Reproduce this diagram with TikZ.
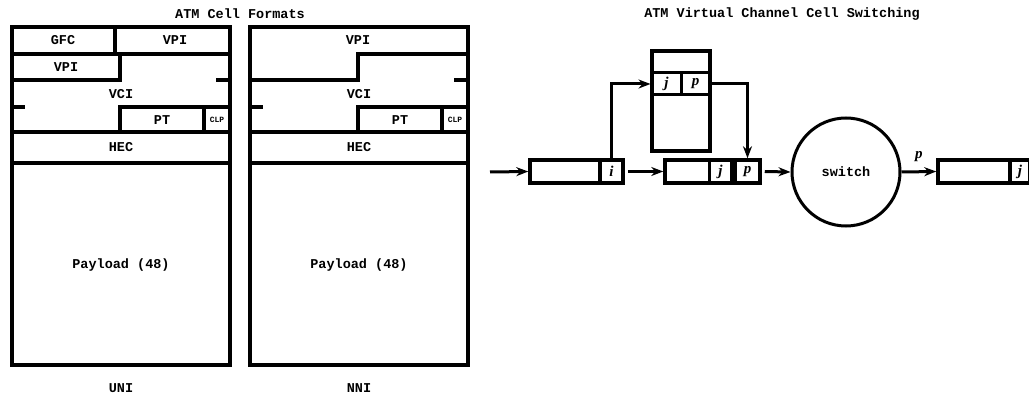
\documentclass[tikz,border=0pt]{standalone}
\usepackage{fontspec}
\setmonofont{Liberation Mono}
\newfontfamily\varfont{Liberation Serif}
\usetikzlibrary{arrows.meta, positioning}

\tikzset{
  cellline/.style={line width=3.5pt, line cap=rect},
  lbl/.style={font=\fontsize{13.5}{15}\selectfont\ttfamily\bfseries, inner sep=0pt},
  tinylbl/.style={font=\fontsize{8}{9}\selectfont\ttfamily\bfseries, inner sep=0pt},
  var/.style={font=\fontsize{15}{16}\selectfont\varfont\bfseries\itshape},
  cellbox/.style={draw, line width=3.5pt, minimum height=23pt, inner sep=0pt},
  fieldbox/.style={cellbox, minimum width=#1},
  flow/.style={->, line width=3pt},
}

\begin{document}
\begin{tikzpicture}[x=1pt, y=-1pt, >={Stealth[length=12pt, width=9pt]}]
  \useasboundingbox (0,0) rectangle (1029,398);

  \node[lbl] (title-fmt) at (240,14) {ATM Cell Formats};
  \node[lbl] (title-sw) at (782,14) {ATM Virtual Channel Cell Switching};

  % both header layouts share the lower part, NNI is shifted right
  \foreach \ox/\name in {0/UNI, 238/NNI}{
    \begin{scope}[xshift=\ox]
      \draw[cellline] (12,27) rectangle (230,365);
      \draw[cellline] (12,80) -- (120,80) -- (120,54) -- (230,54);
      \draw[cellline] (218,80) -- (230,80);
      \draw[cellline] (12,107) -- (23,107);
      \draw[cellline] (120,132) -- (120,107) -- (230,107);
      \draw[cellline] (204,107) -- (204,132);
      \draw[cellline] (12,132) -- (230,132);
      \draw[cellline] (12,163) -- (230,163);
      \node[lbl] (\name-vci) at (121,94) {VCI};
      \node[lbl] (\name-pt) at (162,120) {PT};
      \node[tinylbl] (\name-clp) at (217,120) {CLP};
      \node[lbl] (\name-hec) at (121,147) {HEC};
      \node[lbl] (\name-load) at (121,265) {Payload (48)};
      \node[lbl] (\name-name) at (121,388) {\name};
    \end{scope}
  }
  % UNI first byte: GFC + VPI
  \draw[cellline] (115,27) -- (115,54);
  \draw[cellline] (12,54) -- (120,54);
  \node[lbl] (UNI-gfc) at (63,40) {GFC};
  \node[lbl] (UNI-vpi) at (175,40) {VPI};
  \node[lbl] (UNI-vpi2) at (66,67) {VPI};
  \node[lbl] (NNI-vpi) at (358,40) {VPI};

  % switching: cells, table and switch
  \coordinate (src) at (490,172);
  \node[cellbox, minimum width=93pt] (in) at (576.5,171.5) {};
  \node[fieldbox=23pt, var, anchor=east] (in-i) at (in.east) {i};

  \node[draw, line width=3.5pt, minimum width=58pt, minimum height=100pt, inner sep=0pt] (tab) at (681,101) {};
  \node[draw, line width=3pt, minimum width=29pt, minimum height=22pt, inner sep=0pt, var] (tab-j) at (666.5,84) {j};
  \node[draw, line width=3pt, minimum width=29pt, minimum height=22pt, inner sep=0pt, var] (tab-p) at (695.5,84) {p};

  \node[cellbox, minimum width=95pt] (mid) at (712.5,171.5) {};
  \node[fieldbox=25pt, var, anchor=east] (mid-p) at (mid.east) {p};
  \node[fieldbox=22pt, var, anchor=east] (mid-j) at (mid-p.west) {j};

  \node[draw, circle, line width=3pt, minimum size=108pt, inner sep=0pt, lbl] (sw) at (846,172) {switch};

  \node[cellbox, minimum width=92pt] (out) at (984,171.5) {};
  \node[fieldbox=20pt, var, anchor=east] (out-j) at (out.east) {j};

  \draw[flow] (src) -- (in.west);
  \draw[flow] (in.east) ++(3,0) -- (mid.west);
  \draw[flow] (in-i.north) |- (tab-j.west);
  \draw[flow] (tab-p.east) -| (mid-p.north);
  \draw[flow] (mid.east) ++(3,0) -- (sw.west);
  \draw[flow] (sw.east) -- (out.west) node[midway, above=5pt, var] (lbl-p) {p};
\end{tikzpicture}
\end{document}
